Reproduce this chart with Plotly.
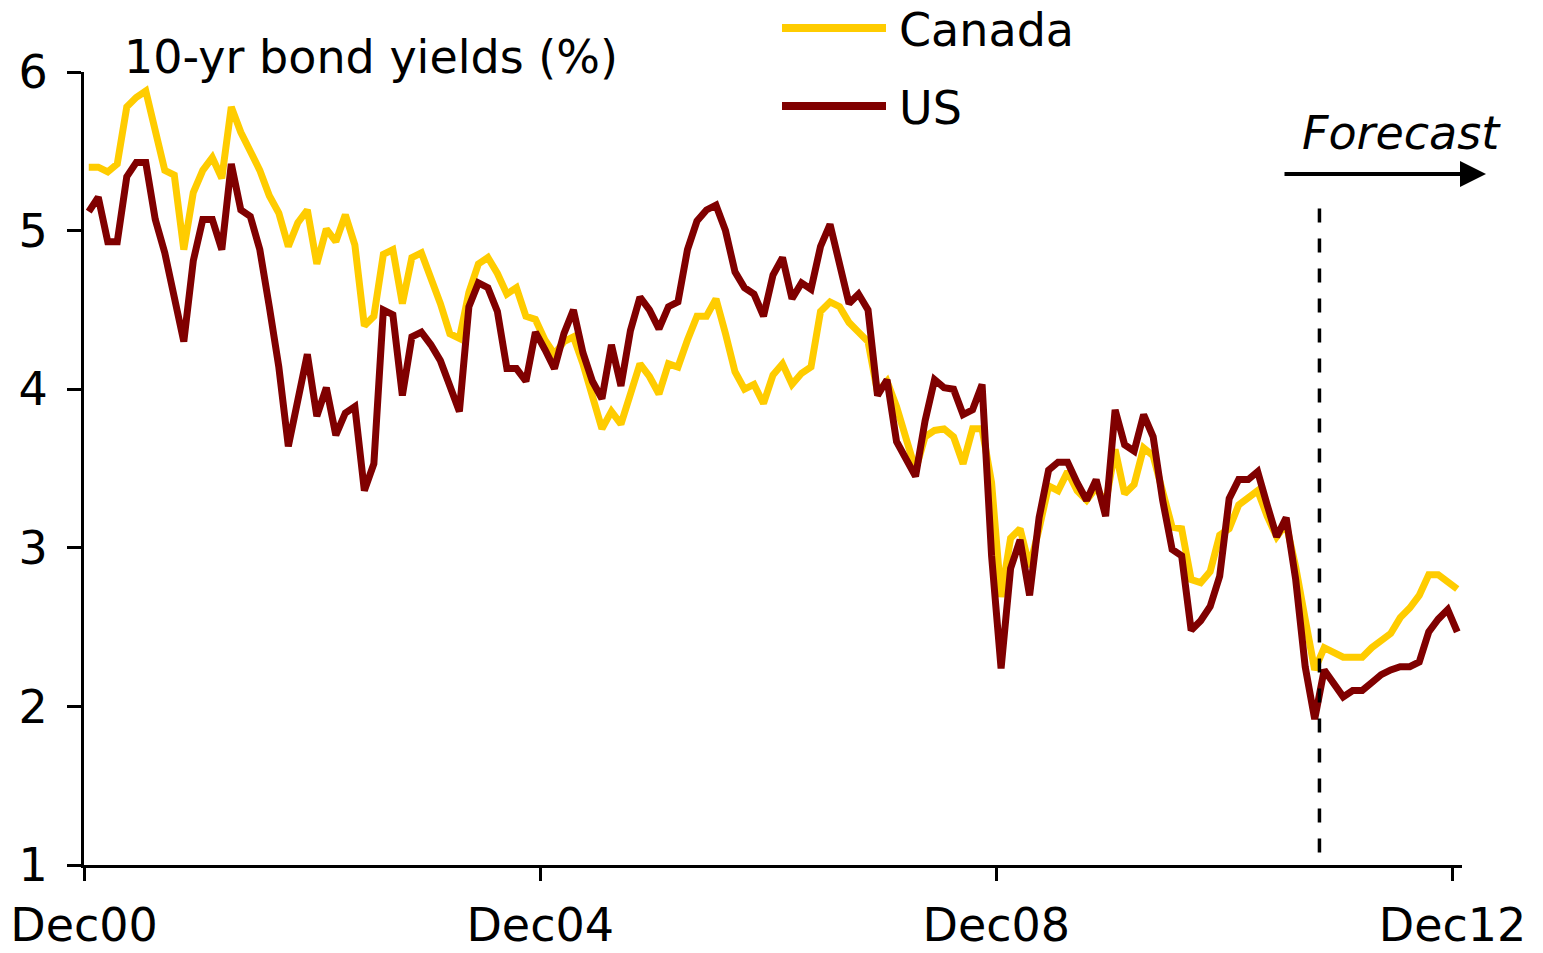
import plotly.graph_objects as go

# ---- data (monthly, Dec 2000 .. Dec 2012) ----
months = list(range(145))

canada = [
    5.40, 5.40, 5.37, 5.42, 5.78, 5.84, 5.88, 5.63, 5.38, 5.35,
    4.88, 5.24, 5.38, 5.46, 5.33, 5.78, 5.62, 5.50, 5.38, 5.22,
    5.11, 4.90, 5.05, 5.13, 4.79, 5.01, 4.93, 5.10, 4.91, 4.40,
    4.46, 4.85, 4.88, 4.54, 4.83, 4.86, 4.71, 4.54, 4.35, 4.32,
    4.61, 4.79, 4.83, 4.73, 4.60, 4.64, 4.46, 4.44, 4.31, 4.22,
    4.30, 4.33, 4.16, 3.97, 3.75, 3.86, 3.78, 3.97, 4.16, 4.08,
    3.97, 4.16, 4.14, 4.31, 4.46, 4.46, 4.57, 4.35, 4.11, 4.00,
    4.03, 3.91, 4.09, 4.16, 4.03, 4.10, 4.14, 4.49, 4.55, 4.52,
    4.42, 4.36, 4.30, 3.98, 4.05, 3.89, 3.69, 3.49, 3.70, 3.74,
    3.75, 3.70, 3.53, 3.75, 3.75, 3.41, 2.69, 3.06, 3.12, 2.88,
    3.12, 3.39, 3.36, 3.48, 3.36, 3.30, 3.38, 3.28, 3.62, 3.34,
    3.40, 3.63, 3.58, 3.36, 3.13, 3.12, 2.80, 2.78, 2.85, 3.08,
    3.12, 3.27, 3.32, 3.36, 3.20, 3.07, 3.15, 2.88, 2.55, 2.23,
    2.37, 2.34, 2.31, 2.31, 2.31, 2.37, 2.41, 2.46, 2.56, 2.62,
    2.70, 2.83, 2.83, 2.79, 2.74,
]

us = [
    5.12, 5.21, 4.93, 4.93, 5.34, 5.43, 5.43, 5.07, 4.86, 4.58,
    4.30, 4.81, 5.07, 5.07, 4.88, 5.42, 5.13, 5.09, 4.88, 4.52,
    4.14, 3.64, 3.93, 4.22, 3.83, 4.01, 3.71, 3.85, 3.89, 3.36,
    3.53, 4.50, 4.47, 3.96, 4.33, 4.36, 4.28, 4.18, 4.02, 3.86,
    4.52, 4.67, 4.64, 4.49, 4.13, 4.13, 4.05, 4.36, 4.25, 4.13,
    4.35, 4.50, 4.23, 4.05, 3.94, 4.28, 4.02, 4.37, 4.58, 4.50,
    4.38, 4.52, 4.55, 4.88, 5.06, 5.13, 5.16, 5.00, 4.74, 4.64,
    4.60, 4.46, 4.72, 4.83, 4.57, 4.67, 4.63, 4.90, 5.04, 4.79,
    4.54, 4.60, 4.50, 3.96, 4.06, 3.67, 3.55, 3.45, 3.80, 4.06,
    4.01, 4.00, 3.84, 3.87, 4.03, 2.95, 2.24, 2.87, 3.05, 2.70,
    3.19, 3.49, 3.54, 3.54, 3.41, 3.30, 3.43, 3.20, 3.87, 3.65,
    3.61, 3.84, 3.70, 3.30, 2.99, 2.95, 2.48, 2.54, 2.63, 2.82,
    3.31, 3.43, 3.43, 3.48, 3.27, 3.07, 3.19, 2.80, 2.25, 1.92,
    2.23, 2.14, 2.06, 2.10, 2.10, 2.15, 2.20, 2.23, 2.25, 2.25,
    2.28, 2.47, 2.55, 2.61, 2.47,
]

x_tick_positions = [-0.5, 47.5, 95.5, 143.5]
x_tick_labels = ["Dec00", "Dec04", "Dec08", "Dec12"]
y_ticks = [1, 2, 3, 4, 5, 6]
forecast_start = 129.5
forecast_line_top = 5.14

series_names = ["Canada", "US"]
series_colors = ["#FFCC00", "#800000"]

FONT = "DejaVu Sans"
FS = 46

fig = go.Figure()
for name, vals, col in zip(series_names, [canada, us], series_colors):
    fig.add_trace(go.Scatter(
        x=months, y=vals, mode="lines", name=name,
        line=dict(color=col, width=7), showlegend=False,
    ))

W, H = 1543, 953
ML, MR, MT, MB = 84, 81, 72, 88
PW, PH = W - ML - MR, H - MT - MB


def px_x(p):
    return (p - ML) / PW


def px_y(p):
    return (H - MB - p) / PH


shapes = [
    dict(type="line", xref="x", yref="y", x0=forecast_start, x1=forecast_start,
         y0=forecast_line_top, y1=1,
         line=dict(color="black", width=3.5, dash="14px,16px")),
]
annotations = [
    dict(text="10-yr bond yields (%)", xref="paper", yref="paper",
         x=px_x(122), y=px_y(57), xanchor="left", yanchor="middle",
         showarrow=False, font=dict(family=FONT, size=FS, color="black")),
    dict(text="<i>Forecast</i>", xref="paper", yref="paper",
         x=px_x(1300), y=px_y(133), xanchor="left", yanchor="middle",
         showarrow=False, font=dict(family=FONT, size=FS, color="black")),
    dict(text="", xref="paper", yref="paper", x=px_x(1486), y=px_y(174),
         ax=-(1486 - 1283), ay=0, showarrow=True, arrowhead=2,
         arrowwidth=4, arrowsize=1.3, arrowcolor="black"),
]
legend_y = [28, 106]
for name, col, ly in zip(series_names, series_colors, legend_y):
    shapes.append(dict(type="line", xref="paper", yref="paper",
                       x0=px_x(782), x1=px_x(886), y0=px_y(ly), y1=px_y(ly),
                       line=dict(color=col, width=8)))
    annotations.append(dict(text=name, xref="paper", yref="paper",
                            x=px_x(897), y=px_y(ly + 2), xanchor="left",
                            yanchor="middle", showarrow=False,
                            font=dict(family=FONT, size=FS, color="black")))

axis_common = dict(
    showline=True, linecolor="black", linewidth=3, mirror=False,
    ticks="outside", tickcolor="black", tickwidth=2.5,
    showgrid=False, zeroline=False, automargin=False,
    tickfont=dict(family=FONT, size=FS, color="black"),
)

fig.update_layout(
    width=W, height=H,
    margin=dict(l=ML, r=MR, t=MT, b=MB, pad=0, autoexpand=False),
    paper_bgcolor="white", plot_bgcolor="white",
    xaxis=dict(range=[-0.5, 144.5], tickmode="array",
               tickvals=x_tick_positions, ticktext=x_tick_labels,
               ticklen=13, ticklabelstandoff=5, **axis_common),
    yaxis=dict(range=[1, 6], tickmode="array", tickvals=y_ticks,
               ticktext=[str(v) for v in y_ticks],
               ticklen=14, ticklabelstandoff=10, **axis_common),
    shapes=shapes, annotations=annotations,
)

# remove the default page margin so the figure fills the window exactly
fig.write_html("out.html",
               config={"displayModeBar": False},
               post_script="document.body.style.margin='0';document.body.style.overflow='hidden';")
